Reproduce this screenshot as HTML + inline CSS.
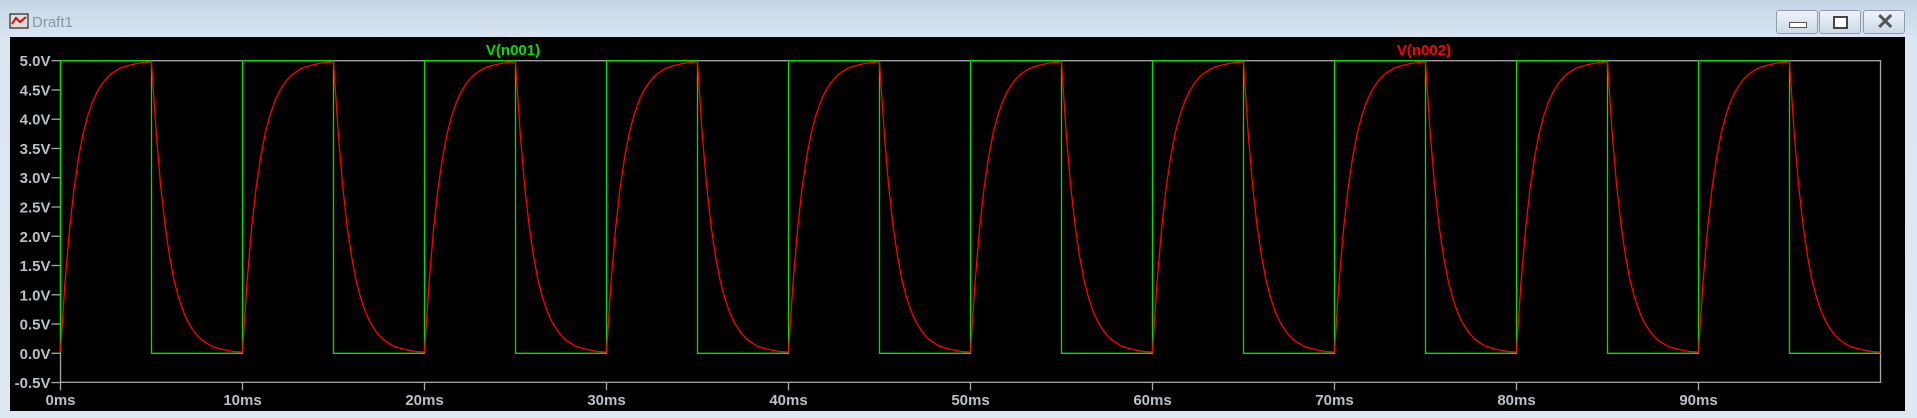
<!DOCTYPE html>
<html><head><meta charset="utf-8"><style>
html,body{margin:0;padding:0;width:1917px;height:418px;overflow:hidden;background:#e3ebf4;font-family:"Liberation Sans",Arial,sans-serif}
#win{position:absolute;left:0;top:0;width:1917px;height:418px;background:linear-gradient(#c6d5e6,#dae6f2 40px,#dde8f3)}
#title{position:absolute;left:32px;top:14px;font-size:15px;color:#8a96a4}
.btn{position:absolute;top:10px;width:40px;height:22px;border:1px solid #8d9cb0;border-radius:3px;background:linear-gradient(#eef3f9,#cdd9e7)}
svg{position:absolute;left:0;top:0}
</style></head><body>
<div id="win">
<svg width="24" height="20" style="left:8px;top:12px"><rect x="2" y="2" width="18" height="14" fill="#ddd" stroke="#000"/><polyline points="4,12 8,6 12,10 18,5" fill="none" stroke="#e00" stroke-width="2"/></svg>
<div id="title">Draft1</div>
<div class="btn" style="left:1776px"><div style="position:absolute;left:12px;top:11px;width:16px;height:4px;background:#fff;border:1px solid #555"></div></div>
<div class="btn" style="left:1819px"><div style="position:absolute;left:13px;top:5px;width:11px;height:9px;border:2px solid #444;background:#fff"></div></div>
<div class="btn" style="left:1863px"><div style="position:absolute;left:12px;top:-2px;font-size:22px;font-weight:bold;color:#555">✕</div></div>
</div>
<svg id="chart" width="1917" height="418"></svg>
<script>
const periods=[0,10,20,30,40,50,60,70,80,90];
const halfPeriodMs=5;
const greenHigh=5, greenLow=0;
const riseTimes=[0,0.25,0.5,0.75,1,1.25,1.5,1.75,2,2.25,2.5,2.75,3,3.25,3.5,3.75,4,4.25,4.5,4.75,5];
const riseValues=[0.03,1.21,2.13,2.83,3.36,3.77,4.06,4.29,4.46,4.59,4.69,4.77,4.82,4.87,4.90,4.92,4.94,4.955,4.97,4.975,4.98];
const fallValues=[4.98,3.8,2.87,2.17,1.64,1.23,0.94,0.71,0.54,0.41,0.31,0.23,0.18,0.13,0.10,0.08,0.06,0.045,0.03,0.025,0.02];
const yTicks=[5,4.5,4,3.5,3,2.5,2,1.5,1,0.5,0,-0.5];
const xTicks=[0,10,20,30,40,50,60,70,80,90];
const NS="http://www.w3.org/2000/svg";
const svg=document.getElementById('chart');
const L=60.5,R=1880.5,T=60.7,B=382.3;
const X=t=>L+(t/100)*(R-L);
const Y=v=>353.3-v*58.52;
function mk(tag,at){const e=document.createElementNS(NS,tag);for(const k in at)e.setAttribute(k,at[k]);svg.appendChild(e);return e;}
const bg=mk('rect',{x:10,y:37,width:1895,height:374,fill:'#000'});


const fr=mk('rect',{x:L,y:T,width:R-L,height:B-T,fill:'none',stroke:'#a8a8a8','stroke-width':1.3});


yTicks.forEach(v=>{
 const y=Y(v);
 const tk=mk('line',{x1:L-9,x2:L,y1:y,y2:y,stroke:'#a8a8a8','stroke-width':1.3});
 
 
 const tx=mk('text',{x:L-10,y:y+5.5,'text-anchor':'end','font-size':15,'font-weight':'bold',fill:'#b8c0c8','font-family':'Liberation Sans, sans-serif'});
 tx.textContent=v.toFixed(1)+'V';
 
 
});
xTicks.forEach(t=>{
 const x=X(t);
 const tk=mk('line',{x1:x,x2:x,y1:B,y2:B+8,stroke:'#a8a8a8','stroke-width':1.3});
 
 
 const tx=mk('text',{x:x,y:405,'text-anchor':'middle','font-size':15,'font-weight':'bold',fill:'#b8c0c8','font-family':'Liberation Sans, sans-serif'});
 tx.textContent=t+'ms';
 
 
});
let g='M'+X(0)+','+Y(greenLow);
periods.forEach(p=>{
 g+=' L'+X(p)+','+Y(greenHigh)+' L'+X(p+halfPeriodMs)+','+Y(greenHigh)+' L'+X(p+halfPeriodMs)+','+Y(greenLow)+' L'+X(p+2*halfPeriodMs)+','+Y(greenLow);
});
const gp=mk('path',{d:g,fill:'none',stroke:'#00e000','stroke-width':1.3});


let r='';
periods.forEach((p,i)=>{
 riseTimes.forEach((t,j)=>{r+=(i===0&&j===0?'M':' L')+X(p+t).toFixed(1)+','+Y(riseValues[j]).toFixed(1);});
 riseTimes.forEach((t,j)=>{r+=' L'+X(p+halfPeriodMs+t).toFixed(1)+','+Y(fallValues[j]).toFixed(1);});
});
const rp=mk('path',{d:r,fill:'none',stroke:'#ff0000','stroke-width':1.3});


const l1=mk('text',{x:513,y:55,'text-anchor':'middle','font-size':15,'font-weight':'bold',fill:'#00e000','font-family':'Liberation Sans, sans-serif'});
l1.textContent='V(n001)';


const l2=mk('text',{x:1424,y:55,'text-anchor':'middle','font-size':15,'font-weight':'bold',fill:'#ff0000','font-family':'Liberation Sans, sans-serif'});
l2.textContent='V(n002)';


</script>
</body></html>
